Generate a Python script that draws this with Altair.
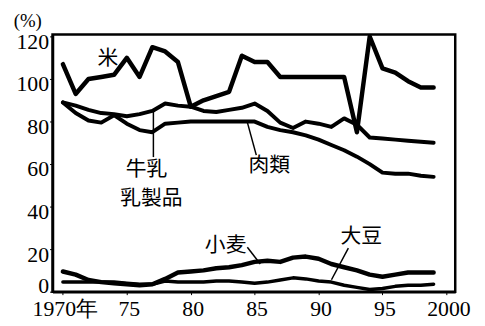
import altair as alt
import pandas as pd

years = list(range(1970, 2000))
rice = [107, 93, 100, 101, 102, 110, 101, 115, 113, 108, 87, 90, 92, 94, 111, 108, 108, 101, 101, 101,
        101, 101, 101, 75, 120, 105, 103, 99, 96, 96]
dairy = [89, 87.5, 85.5, 84, 83.5, 82.5, 83.5, 85, 88.5, 87.5, 87, 85, 84.5, 85.5, 86.5, 88.5, 85, 79.5, 77, 80,
         79, 77.5, 81.5, 78.5, 72.5, 72, 71.5, 71, 70.5, 70]
meat = [89, 84, 80.5, 79.5, 83, 79, 76, 75, 79, 79.5, 80, 80, 80, 80, 80, 80, 77.5, 76, 75, 73.5,
        71.5, 69, 66.5, 63.5, 60, 56, 55.5, 55.5, 54.5, 54]
wheat = [9.5, 8, 5.5, 4.5, 4, 3.5, 3, 3.5, 6, 9, 9.5, 10, 11, 11.5, 12.5, 14, 14.5, 14, 16, 16.5,
         15.5, 13, 11.5, 10, 8, 7, 8, 9, 9, 9]
soy = [4.5, 4.5, 4.5, 4.5, 4.5, 4, 3.5, 3.5, 5, 4.5, 4.5, 4.5, 5, 5, 4.5, 4, 4.5, 5.5, 6.5, 6,
       5, 4.5, 3, 2, 1, 1.5, 2.5, 3, 3, 3.5]

x_ticks = [1970, 1975, 1980, 1985, 1990, 1995, 2000]
y_ticks = [0, 20, 40, 60, 80, 100, 120]

# annotation labels (data units)
label_text = ["米", "牛乳", "乳製品", "肉類", "小麦", "大豆"]
label_year = [1973.52, 1976.54, 1976.93, 1986.14, 1982.73, 1993.34]
label_value = [109.4, 57.3, 43.6, 59.1, 21.4, 25.6]

# pointer lines (data units)
ptr_year = [1977.08, 1984.43, 1984.43, 1992.33]
ptr_value = [85.2, 79.6, 20.9, 20.5]
ptr_year2 = [1977.08, 1985.13, 1985.44, 1991.01]
ptr_value2 = [63.3, 64.2, 13.0, 5.6]

series = {"rice": rice, "dairy": dairy, "meat": meat, "wheat": wheat, "soy": soy}
rows = []
for name, vals in series.items():
    for y, v in zip(years, vals):
        rows.append({"series": name, "year": y, "value": v})
df = pd.DataFrame(rows)

lab_df = pd.DataFrame({"text": label_text, "year": label_year, "value": label_value})
ptr_df = pd.DataFrame({"year": ptr_year, "value": ptr_value, "year2": ptr_year2, "value2": ptr_value2})
unit_df = pd.DataFrame({"text": ["(%)"], "year": [1967.25], "value": [127.5]})

xscale = alt.Scale(domain=[1969.19, 2000.69], nice=False, zero=False)
yscale = alt.Scale(domain=[0, 121], nice=False, zero=False)

NUM_FONT = "'Liberation Serif', 'DejaVu Serif', 'Times New Roman', serif"

x_axis = alt.Axis(values=x_ticks, title=None, grid=False,
                  labelExpr="datum.value == 1970 ? '1970年' : (datum.value == 2000 ? '2000' : slice(toString(datum.value), 2))",
                  labelFont=NUM_FONT, labelFontSize=22, labelColor="black",
                  tickSize=3, tickColor="black", labelPadding=4, labelOffset=2,
                  domainColor="black", domainWidth=2.5)
y_axis = alt.Axis(values=y_ticks, title=None, grid=False,
                  labelFont=NUM_FONT, labelFontSize=22, labelColor="black",
                  tickSize=3, tickColor="black", labelPadding=1,
                  labelOffset={"condition": {"test": "datum.value === 0", "value": -6}, "value": 5},
                  domainColor="black", domainWidth=2.5)

X = alt.X("year:Q", scale=xscale, axis=x_axis)
Y = alt.Y("value:Q", scale=yscale, axis=y_axis)

widths = {"rice": 4.5, "dairy": 4, "meat": 4, "wheat": 4.5, "soy": 3.5}
layers = []
for name, w in widths.items():
    layers.append(
        alt.Chart(df).transform_filter(alt.datum.series == name)
        .mark_line(color="black", strokeWidth=w, strokeJoin="round", strokeCap="round")
        .encode(x=X, y=Y)
    )

ptr = alt.Chart(ptr_df).mark_rule(color="black", strokeWidth=1.5).encode(
    x=alt.X("year:Q", scale=xscale), y=alt.Y("value:Q", scale=yscale),
    x2="year2:Q", y2="value2:Q")

labels = alt.Chart(lab_df).mark_text(font="Noto Sans CJK JP", fontSize=21, color="black").encode(
    x=alt.X("year:Q", scale=xscale), y=alt.Y("value:Q", scale=yscale), text="text:N")

unit = alt.Chart(unit_df).mark_text(font=NUM_FONT, fontSize=19, color="black").encode(
    x=alt.X("year:Q", scale=xscale), y=alt.Y("value:Q", scale=yscale), text="text:N")

chart = alt.layer(*layers, ptr, labels, unit).properties(
    width=407, height=260,
    autosize=alt.AutoSizeParams(type="none"),
    padding={"left": 45, "top": 25, "right": 22, "bottom": 32},
    background="white",
).configure_view(stroke="black", strokeWidth=2.5)

chart.save("out.html", embed_options={"renderer": "svg", "actions": False})
